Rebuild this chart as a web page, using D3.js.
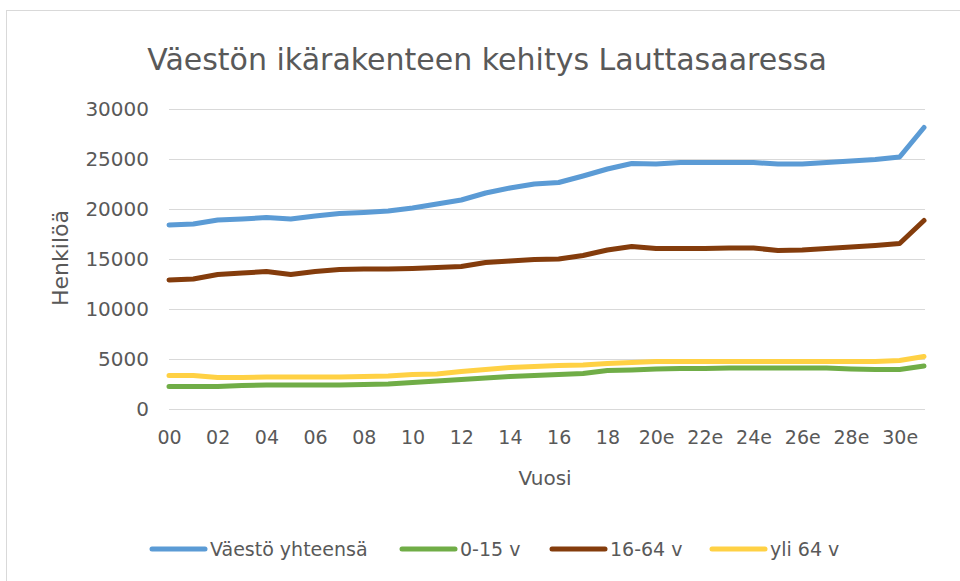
<!DOCTYPE html>
<html><head><meta charset="utf-8">
<script src="https://cdn.jsdelivr.net/npm/d3@7/dist/d3.min.js"></script>
<style>body{margin:0;background:#fff}svg{display:block}</style>
</head><body>
<svg id="c" width="960" height="581"></svg>
<script>
const categories = ["00","01","02","03","04","05","06","07","08","09","10","11","12","13","14","15","16","17","18","19","20e","21e","22e","23e","24e","25e","26e","27e","28e","29e","30e","31e"];
const tickLabels = ["00","02","04","06","08","10","12","14","16","18","20e","22e","24e","26e","28e","30e"];
const yTicks = [0,5000,10000,15000,20000,25000,30000];
const seriesNames = ["Väestö yhteensä","0-15 v","16-64 v","yli 64 v"];
const seriesColors = ["#5B9BD5","#70AD47","#843C0C","#FFD144"];
const total = [18400,18500,18900,19000,19150,19000,19300,19550,19650,19800,20100,20500,20900,21600,22100,22500,22650,23300,24000,24550,24500,24650,24650,24650,24650,24500,24500,24650,24800,24950,25200,28150];
const age0_15 = [2250,2250,2250,2350,2400,2400,2400,2400,2450,2500,2650,2800,2950,3100,3250,3350,3450,3550,3850,3900,4000,4050,4050,4100,4100,4100,4100,4100,4000,3950,3950,4300];
const age16_64 = [12900,13000,13450,13600,13750,13450,13750,13950,14000,14000,14050,14150,14250,14650,14800,14950,15000,15350,15900,16250,16050,16050,16050,16100,16100,15850,15900,16050,16200,16350,16550,18850];
const age65 = [3350,3350,3150,3150,3200,3200,3200,3200,3250,3300,3450,3500,3750,3950,4150,4250,4350,4400,4550,4650,4750,4750,4750,4750,4750,4750,4750,4750,4750,4750,4850,5250];
const seriesData = [total, age0_15, age16_64, age65];

const svg = d3.select("#c");
const font = "DejaVu Sans";
const txt = "#595959";

// frame
svg.append("rect").attr("x",6.5).attr("y",10.5).attr("width",1000).attr("height",1000)
  .attr("fill","#fff").attr("stroke","#D9D9D9").attr("stroke-width",1);

const x = d3.scalePoint().domain(categories).range([169,924]);
const y = d3.scaleLinear().domain([0,30000]).range([409,109]);

// gridlines
svg.append("g").selectAll("line").data(yTicks).join("line")
  .attr("x1",169).attr("x2",925)
  .attr("y1",d=>Math.round(y(d))+0.5).attr("y2",d=>Math.round(y(d))+0.5)
  .attr("stroke","#D9D9D9").attr("stroke-width",1.2);

// y axis labels
const yAxis = d3.axisLeft(y).tickValues(yTicks).tickSize(0).tickPadding(0).tickFormat(d3.format("d"));
const gy = svg.append("g").attr("transform","translate(149,0)").call(yAxis);
gy.select(".domain").remove();
gy.selectAll("text").attr("font-family",font).attr("font-size",20).attr("fill",txt);

// x axis labels
const xAxis = d3.axisBottom(x).tickValues(tickLabels).tickSize(0).tickPadding(0);
const gx = svg.append("g").attr("transform","translate(0,430)").call(xAxis);
gx.select(".domain").remove();
gx.selectAll("text").attr("font-family",font).attr("font-size",19).attr("fill",txt);

// lines
const line = d3.line().x((d,i)=>x(categories[i])).y(d=>y(d));
svg.append("g").selectAll("path").data(seriesData).join("path")
  .attr("d",line).attr("fill","none")
  .attr("stroke",(d,i)=>seriesColors[i]).attr("stroke-width",5)
  .attr("stroke-linejoin","round").attr("stroke-linecap","round");

// title
svg.append("text").attr("x",487).attr("y",70).attr("text-anchor","middle")
  .attr("font-family",font).attr("font-size",30).attr("fill",txt)
  .text("Väestön ikärakenteen kehitys Lauttasaaressa");

// axis titles
svg.append("text").attr("x",545).attr("y",485).attr("text-anchor","middle")
  .attr("font-family",font).attr("font-size",20).attr("fill",txt).text("Vuosi");
svg.append("text").attr("transform","translate(68,258) rotate(-90)").attr("text-anchor","middle")
  .attr("font-family",font).attr("font-size",22).attr("fill",txt).text("Henkilöä");

// legend
const legX = [152,402,552,712];
const lg = svg.append("g").selectAll("g").data(seriesNames).join("g")
  .attr("transform",(d,i)=>`translate(${legX[i]},549)`);
lg.append("line").attr("x1",0).attr("x2",53).attr("y1",0).attr("y2",0)
  .attr("stroke",(d,i)=>seriesColors[i]).attr("stroke-width",5).attr("stroke-linecap","round");
lg.append("text").attr("x",58).attr("y",7).attr("font-family",font).attr("font-size",19)
  .attr("fill",txt).text(d=>d);
</script>
</body></html>
